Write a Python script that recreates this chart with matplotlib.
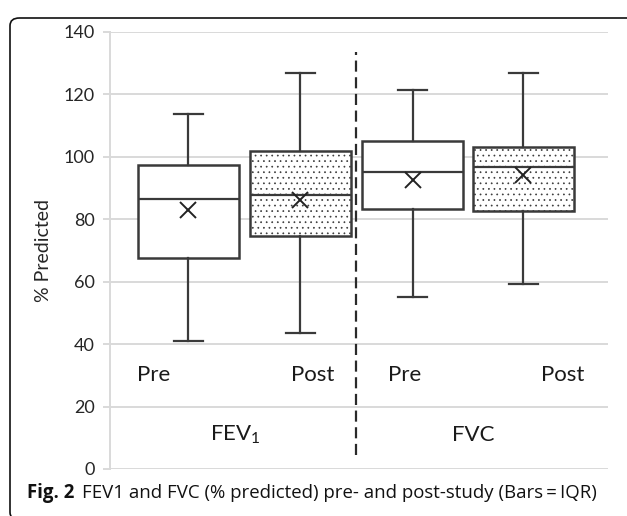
#!/usr/bin/env python3
"""FEV1 / FVC % predicted box plots, pre vs post study."""

import matplotlib
matplotlib.use("Agg")
import matplotlib.pyplot as plt
from matplotlib.patches import FancyBboxPatch

# values (% predicted)
groups = ["FEV$_1$", "FVC"]
labels = ["Pre", "Post", "Pre", "Post"]
whis_lo = [41.0, 43.5, 55.0, 59.3]
q1 = [67.5, 74.8, 83.3, 82.6]
median = [86.6, 87.9, 95.1, 96.9]
mean = [83.0, 86.1, 92.5, 94.1]
q3 = [97.5, 101.9, 105.0, 103.2]
whis_hi = [113.8, 126.8, 121.3, 126.8]
hatched = [False, True, False, True]

plt.rcParams["font.family"] = ["Lato", "DejaVu Sans"]
plt.rcParams["mathtext.fontset"] = "custom"
plt.rcParams["mathtext.rm"] = "Lato"
plt.rcParams["mathtext.it"] = "Lato"
plt.rcParams["hatch.linewidth"] = 0.5
plt.rcParams["hatch.color"] = "#666666"

DARK = "#3a3a3a"
GRID = "#d9d9d9"

fig = plt.figure(figsize=(6.27, 5.16), dpi=100)
ax = fig.add_axes([0.1754, 0.0911, 0.7943, 0.8469])

positions = [0.63, 1.53, 2.43, 3.32]
stats = []
for i in range(len(labels)):
    stats.append({
        "whislo": whis_lo[i], "q1": q1[i], "med": median[i], "q3": q3[i],
        "whishi": whis_hi[i], "mean": mean[i], "fliers": [],
    })

bp = ax.bxp(
    stats, positions=positions, widths=0.81, capwidths=0.235,
    showmeans=True, patch_artist=True,
    boxprops=dict(edgecolor=DARK, linewidth=1.8, facecolor="white"),
    medianprops=dict(color=DARK, linewidth=1.6),
    whiskerprops=dict(color=DARK, linewidth=1.6),
    capprops=dict(color=DARK, linewidth=1.6),
    meanprops=dict(marker="x", markeredgecolor="#222222", markersize=11,
                   markeredgewidth=1.4),
)
for box, h in zip(bp["boxes"], hatched):
    if h:
        box.set_hatch("...")
    box.set_zorder(2)

ax.set_xlim(0, 4)
ax.set_ylim(0, 140)
ax.set_yticks(range(0, 141, 20))
ax.set_xticks([])
ax.yaxis.grid(True, color=GRID, linewidth=1.4)
ax.set_axisbelow(True)
for side in ["top", "right", "bottom"]:
    ax.spines[side].set_visible(False)
ax.spines["left"].set_color(GRID)
ax.spines["left"].set_linewidth(1.4)
ax.tick_params(axis="y", length=5, width=1.4, color=GRID, labelsize=13,
               labelcolor="#262626", pad=6)
ax.set_ylabel("% Predicted", fontsize=14, color="#262626", labelpad=8)

# separator between FEV1 and FVC
ax.axvline(1.98, ymin=0.032, ymax=0.954, color="#2a2a2a", linewidth=1.6,
           linestyle=(0, (5, 2.5)), clip_on=False)

label_x = [0.353, 1.627, 2.365, 3.639]
for x, lab in zip(label_x, labels):
    ax.text(x, 30.1, lab, ha="center", va="center", fontsize=16, color="#1a1a1a")
for x, g in zip([1.008, 2.92], groups):
    ax.text(x, 11.0, g, ha="center", va="center", fontsize=16, color="#1a1a1a")

# rounded frame (only left and top edges fall inside the image)
frame = FancyBboxPatch((10 / 627, -4 / 516), 640 / 627, 502 / 516,
                       boxstyle="round,pad=0,rounding_size=0.015",
                       transform=fig.transFigure, facecolor="none",
                       edgecolor="#111111", linewidth=1.2)
fig.patches.append(frame)

# caption
cap_y = 1 - 493 / 516
t1 = fig.text(27 / 627, cap_y, "Fig. 2", fontsize=13.4, fontweight="bold",
              family=["Open Sans", "DejaVu Sans"], va="center", color="#111111")
fig.canvas.draw()
bb = t1.get_window_extent()
fig.text(bb.x1 / 627 + 8 / 627, cap_y,
         "FEV1 and FVC (% predicted) pre- and post-study (Bars\u2009=\u2009IQR)",
         fontsize=13.4, family=["Open Sans", "DejaVu Sans"], va="center",
         color="#111111")

fig.savefig("out.png", dpi=100)
